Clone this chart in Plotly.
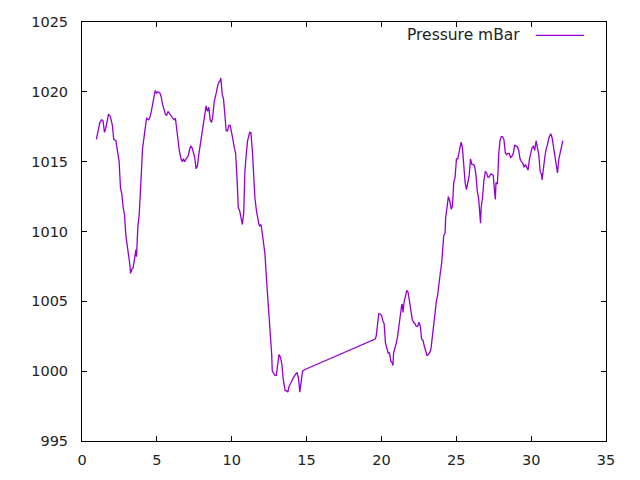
import plotly.graph_objects as go

# pressure readings (time in days vs mBar)
day = [0.96, 1.05, 1.19, 1.32, 1.41, 1.50, 1.59, 1.77, 1.90, 2.03, 2.12, 2.26, 2.39, 2.48,
       2.57, 2.66, 2.75, 2.84, 2.93, 3.02, 3.11, 3.20, 3.24, 3.33, 3.42, 3.51, 3.60, 3.64,
       3.73, 3.82, 3.87, 3.96, 4.04, 4.14, 4.22, 4.31, 4.45, 4.54, 4.63, 4.71, 4.81, 4.89,
       4.98, 5.07, 5.21, 5.30, 5.38, 5.48, 5.57, 5.65, 5.74, 5.87, 6.05, 6.15, 6.24, 6.32,
       6.42, 6.50, 6.59, 6.68, 6.77, 6.86, 6.95, 7.09, 7.17, 7.26, 7.35, 7.44, 7.53, 7.62,
       7.71, 7.80, 7.89, 7.98, 8.07, 8.16, 8.25, 8.29, 8.38, 8.47, 8.56, 8.65, 8.74, 8.83,
       8.92, 9.01, 9.10, 9.23, 9.27, 9.37, 9.45, 9.54, 9.63, 9.72, 9.81, 9.90, 9.99, 10.08,
       10.17, 10.26, 10.35, 10.44, 10.53, 10.61, 10.71, 10.80, 10.88, 10.97, 11.06, 11.20,
       11.28, 11.38, 11.47, 11.55, 11.65, 11.73, 11.82, 11.87, 11.96, 12.05, 12.14, 12.22,
       12.31, 12.40, 12.49, 12.54, 12.62, 12.67, 12.71, 12.80, 12.89, 12.98, 13.07, 13.16,
       13.25, 13.35, 13.43, 13.52, 13.57, 13.66, 13.75, 13.83, 13.93, 14.01, 14.10, 14.19,
       14.28, 14.37, 14.46, 14.55, 14.64, 14.73, 14.86,
       19.58, 19.65, 19.73, 19.82, 19.91, 20.00, 20.10, 20.18, 20.27, 20.36, 20.45, 20.54,
       20.63, 20.72, 20.77, 20.81, 20.90, 20.99, 21.08, 21.17, 21.26, 21.35, 21.39, 21.44,
       21.52, 21.61, 21.70, 21.79, 21.88, 21.97, 22.06, 22.15, 22.24, 22.33, 22.42, 22.51,
       22.60, 22.68, 22.78, 22.86, 22.95, 23.05, 23.13, 23.22, 23.31, 23.40, 23.49, 23.58,
       23.67, 23.76, 23.85, 23.94, 24.03, 24.07, 24.16, 24.25, 24.29, 24.39, 24.47, 24.56,
       24.66, 24.74, 24.83, 24.92, 25.01, 25.10, 25.19, 25.28, 25.32, 25.41, 25.50, 25.59,
       25.68, 25.77, 25.86, 25.95, 26.04, 26.13, 26.22, 26.31, 26.40, 26.49, 26.57, 26.62,
       26.66, 26.75, 26.84, 26.94, 27.02, 27.11, 27.20, 27.29, 27.38, 27.47, 27.52, 27.61,
       27.65, 27.74, 27.79, 27.83, 27.92, 28.01, 28.09, 28.18, 28.28, 28.36, 28.45, 28.54,
       28.63, 28.72, 28.81, 28.90, 28.99, 29.08, 29.17, 29.26, 29.35, 29.44, 29.52, 29.62,
       29.70, 29.79, 29.89, 29.97, 30.06, 30.15, 30.24, 30.33, 30.42, 30.51, 30.60, 30.69,
       30.73, 30.82, 30.91, 31.00, 31.09, 31.18, 31.27, 31.31, 31.40, 31.49, 31.58, 31.67,
       31.76, 31.85, 31.94, 32.03, 32.12]
pressure = [1016.6, 1017.2, 1017.8, 1018.0, 1017.9, 1017.1, 1017.4, 1018.4, 1018.2, 1017.6,
            1016.6, 1016.5, 1015.4, 1015.0, 1013.1, 1012.7, 1011.7, 1011.2, 1009.7, 1009.1,
            1008.4, 1007.6, 1007.0, 1007.3, 1007.4, 1008.0, 1008.7, 1008.2, 1010.3, 1011.2,
            1012.8, 1014.1, 1015.9, 1016.8, 1017.6, 1018.1, 1018.0, 1018.2, 1018.6, 1019.1,
            1019.7, 1020.1, 1019.9, 1020.0, 1019.9, 1019.6, 1019.1, 1018.6, 1018.4, 1018.3,
            1018.6, 1018.4, 1018.1, 1018.0, 1018.1, 1017.3, 1016.6, 1015.8, 1015.3, 1015.0,
            1015.2, 1015.0, 1015.2, 1015.4, 1015.8, 1016.1, 1016.0, 1015.6, 1015.3, 1014.5,
            1014.7, 1015.5, 1016.1, 1016.7, 1017.3, 1018.0, 1018.7, 1019.0, 1018.6, 1018.9,
            1018.0, 1017.8, 1018.3, 1019.3, 1019.7, 1020.2, 1020.6, 1020.8, 1021.0, 1019.8,
            1019.5, 1018.4, 1017.2, 1017.2, 1017.6, 1017.6, 1017.2, 1016.6, 1016.0, 1015.6,
            1013.9, 1011.7, 1011.5, 1011.0, 1010.5, 1011.3, 1014.3, 1015.5, 1016.5, 1017.1,
            1017.1, 1015.8, 1013.6, 1012.4, 1011.5, 1010.9, 1010.5, 1010.4, 1010.5, 1009.8,
            1009.2, 1008.4, 1006.8, 1005.4, 1004.4, 1002.9, 1002.2, 1001.2, 1000.0, 999.8,
            999.7, 999.7, 1000.6, 1001.2, 1001.0, 1000.5, 999.5, 998.9, 998.6, 998.6,
            998.5, 998.9, 999.2, 999.3, 999.5, 999.7, 999.8, 999.9, 999.5, 998.5,
            999.2, 1000.0, 1000.1,
            1002.3, 1002.5, 1003.4, 1004.1, 1004.1, 1004.0, 1003.6, 1003.4, 1002.0, 1001.6,
            1001.3, 1001.3, 1000.7, 1000.6, 1000.4, 1001.3, 1001.6, 1002.0, 1002.5, 1003.4,
            1004.3, 1004.7, 1004.8, 1004.2, 1005.0, 1005.4, 1005.8, 1005.6, 1005.0, 1004.4,
            1003.7, 1003.5, 1003.4, 1003.2, 1003.2, 1003.5, 1003.2, 1002.3, 1002.2, 1001.8,
            1001.4, 1001.1, 1001.2, 1001.3, 1001.6, 1002.4, 1003.6, 1004.3, 1005.0, 1005.5,
            1006.6, 1007.1, 1007.8, 1008.6, 1009.7, 1009.9, 1011.0, 1011.8, 1012.5, 1012.2,
            1011.6, 1011.8, 1013.5, 1013.9, 1015.2, 1015.2, 1015.6, 1016.0, 1016.4, 1016.0,
            1014.3, 1013.5, 1013.0, 1013.4, 1014.0, 1015.2, 1014.8, 1014.8, 1014.7, 1014.1,
            1012.9, 1012.4, 1011.0, 1010.6, 1011.7, 1012.4, 1013.6, 1014.3, 1014.2, 1013.9,
            1013.9, 1014.1, 1014.1, 1014.0, 1013.3, 1012.3, 1013.5, 1013.4, 1014.3, 1015.5,
            1016.5, 1016.8, 1016.8, 1016.6, 1015.6, 1015.5, 1015.6, 1015.6, 1015.3, 1015.4,
            1015.6, 1016.2, 1016.1, 1016.1, 1015.8, 1015.2, 1015.0, 1014.9, 1014.6, 1014.8,
            1014.6, 1014.4, 1015.2, 1015.6, 1016.0, 1016.1, 1015.8, 1016.5, 1016.1, 1015.5,
            1014.3, 1014.1, 1013.7, 1014.7, 1015.3, 1015.9, 1016.2, 1016.7, 1016.9, 1017.0,
            1016.7, 1016.1, 1015.5, 1014.8, 1014.2, 1015.2, 1015.6, 1016.0, 1016.5]

x_ticks = [0, 5, 10, 15, 20, 25, 30, 35]
y_ticks = [995, 1000, 1005, 1010, 1015, 1020, 1025]

line_color = '#9400d3'
font = dict(family='DejaVu Sans, sans-serif', size=14.5, color='#222222')
key_font = dict(family='DejaVu Sans, sans-serif', size=15.5, color='#222222')

fig = go.Figure()
fig.add_trace(go.Scatter(
    x=day, y=pressure,
    mode='lines',
    name='Pressure mBar',
    line=dict(color=line_color, width=1.3),
    hoverinfo='x+y'
))

axis_style = dict(
    showgrid=False, zeroline=False, automargin=False,
    showline=True, linecolor='black', linewidth=1,
    mirror='allticks', ticks='inside', ticklen=5, tickcolor='black', tickwidth=1,
    tickfont=font,
)

# page body has an 8px margin, so the figure is a bit smaller than the window
fig.update_layout(
    width=632, height=472,
    paper_bgcolor='white', plot_bgcolor='white',
    showlegend=False,
    margin=dict(l=74, r=34, t=14, b=39),
    font=font,
    xaxis=dict(range=[0, 35], tickvals=x_ticks, ticklabelstandoff=6, **axis_style),
    yaxis=dict(range=[995, 1025], tickvals=y_ticks, ticklabelstandoff=10, **axis_style),
)

# gnuplot-style key: text on the left, line sample on the right
fig.add_annotation(
    x=0.839, y=0.968, xref='paper', yref='paper',
    text='Pressure mBar', showarrow=False,
    xanchor='right', yanchor='middle', font=key_font
)
fig.add_shape(
    type='line', xref='paper', yref='paper',
    x0=0.866, x1=0.958, y0=0.968, y1=0.968,
    line=dict(color=line_color, width=1.3)
)

fig.write_html("out.html")
